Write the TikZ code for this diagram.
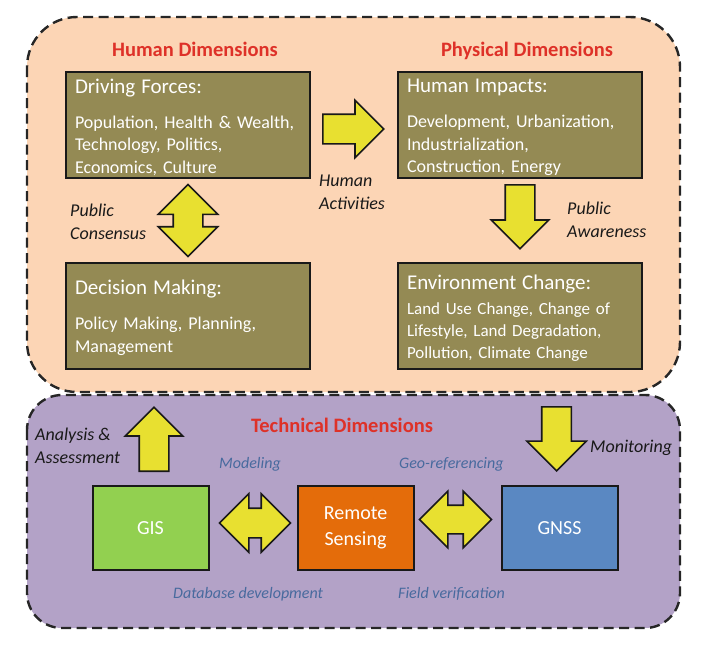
\documentclass[tikz,border=0pt]{standalone}
\usepackage{fontspec}
\setmainfont{Carlito}
\usetikzlibrary{positioning, calc, shapes.arrows}

\definecolor{peach}{HTML}{FCD5B5}
\definecolor{lilac}{HTML}{B3A2C7}
\definecolor{olive}{HTML}{948A54}
\definecolor{headred}{HTML}{DE3128}
\definecolor{methblue}{HTML}{486A9E}
\definecolor{arrowyellow}{HTML}{E8E030}
\definecolor{gisgreen}{HTML}{92D050}
\definecolor{rsorange}{HTML}{E46C0A}
\definecolor{gnssblue}{HTML}{5A88C2}

\tikzset{
  panel/.style={draw=black!85, line width=2.4pt, dash pattern=on 10pt off 5.5pt},
  dimbox/.style={draw=black!90, line width=2pt, fill=olive, text=white,
    minimum width=244pt, minimum height=106pt, text width=226pt,
    inner xsep=9pt, inner ysep=1pt, align=left,
    font=\fontsize{18}{22.5}\selectfont},
  techbox/.style={draw=black!90, line width=2pt, text=white,
    minimum width=116pt, minimum height=84pt, align=center,
    font=\fontsize{20}{26}\selectfont},
  heading/.style={text=headred, inner sep=0pt, font=\bfseries\fontsize{20.5}{24}\selectfont},
  note/.style={inner sep=0pt, align=left, text=black!90, font=\itshape\fontsize{18}{23}\selectfont},
  method/.style={inner sep=0pt, text=methblue, font=\itshape\fontsize{16}{20}\selectfont},
  blkarrow/.style={single arrow, draw=black!90, fill=arrowyellow, line width=1.6pt,
    inner xsep=0pt, inner ysep=14pt, minimum width=56pt,
    single arrow head extend=14pt, single arrow head indent=0pt},
  dblarrow/.style={double arrow, draw=black!90, fill=arrowyellow, line width=1.6pt,
    inner xsep=0pt, inner ysep=14pt, minimum width=57pt,
    double arrow head extend=14.5pt, double arrow head indent=0pt},
}

\newcommand{\boxtitle}[1]{{\fontsize{21}{25}\selectfont\rule{0pt}{18.5pt}#1}}

\begin{document}
\begin{tikzpicture}[x=1pt, y=-1pt, node distance=86pt]
\useasboundingbox (0,0) rectangle (706,645);

% the two panels
\draw[panel, fill=peach, rounded corners=50pt] (27,17) rectangle (680,392);
\draw[panel, fill=lilac, rounded corners=35pt] (27,395) rectangle (680,628);

\node[heading, anchor=base] (hdim) at (195,56) {Human Dimensions};
\node[heading, anchor=base] (pdim) at (527,56) {Physical Dimensions};
\node[heading, anchor=base] (tdim) at (342,432) {Technical Dimensions};

% dimension boxes
\node[dimbox] (df) at (188,125) {\boxtitle{Driving Forces:}\\[12.5pt]
  Population, Health \& Wealth,\\Technology, Politics,\\Economics, Culture};
\node[dimbox, right=of df] (hi) {\boxtitle{Human Impacts:}\\[12.5pt]
  Development, Urbanization,\\Industrialization,\\Construction, Energy};
\node[dimbox, below=83pt of df] (dm) {\boxtitle{Decision Making:}\\[12.5pt]
  Policy Making, Planning,\\Management};
\node[dimbox, below=83pt of hi, font=\fontsize{17}{22}\selectfont] (ec) {\boxtitle{Environment Change:}\\[3pt]
  Land Use Change, Change of\\Lifestyle, Land Degradation,\\Pollution, Climate Change};

% technical boxes
\node[techbox, fill=gisgreen] (gis) at (150.5,528) {GIS};
\node[techbox, fill=rsorange, right=87pt of gis] (rs) {Remote\\Sensing};
\node[techbox, fill=gnssblue, right=of rs] (gnss) {GNSS};

% block arrows
\node[blkarrow, minimum height=61pt, anchor=tail] (act) at ($(df.east)+(11,4)$) {};
\node[blkarrow, rotate=-90, minimum height=64pt, anchor=tail] (aware) at ($(hi.south)+(0,5)$) {};
\node[dblarrow, rotate=90, minimum height=72pt, minimum width=58pt,
  double arrow head extend=15pt] (cons) at ($(df.south)!0.5!(dm.north)$) {};
\node[blkarrow, rotate=90, minimum height=64pt, anchor=tail] (anal) at ($(gis.north)+(3.5,-13)$) {};
\node[blkarrow, rotate=-90, minimum height=64pt, minimum width=58pt,
  single arrow head extend=15pt, anchor=tip] (moni) at ($(gnss.north)+(-3,-13)$) {};
\node[dblarrow, minimum height=71pt] (gisrs) at ($(gis.east)!0.5!(rs.west)+(2,-5)$) {};
\node[dblarrow, minimum height=72pt, inner ysep=13.5pt, minimum width=55pt,
  double arrow head extend=14pt] (rsgnss) at ($(rs.east)!0.5!(gnss.west)+(-2,-8.5)$) {};

% arrow labels
\node[note, anchor=base west] (lact) at (319,209) {Human\\Activities};
\node[note, anchor=base west] (lcons) at (70,239) {Public\\Consensus};
\node[note, anchor=base west] (laware) at (567,237) {Public\\Awareness};
\node[note, anchor=base west] (lanal) at (35,463) {Analysis \&\\Assessment};
\node[note, anchor=base west] (lmoni) at (590,452) {Monitoring};

\node[method, anchor=base west] (lmod) at (219,468) {Modeling};
\node[method, anchor=base west] (lgeo) at (399,468) {Geo-referencing};
\node[method, anchor=base west] (ldb) at (173,598) {Database development};
\node[method, anchor=base west] (lfield) at (398,598) {Field verification};
\end{tikzpicture}
\end{document}
